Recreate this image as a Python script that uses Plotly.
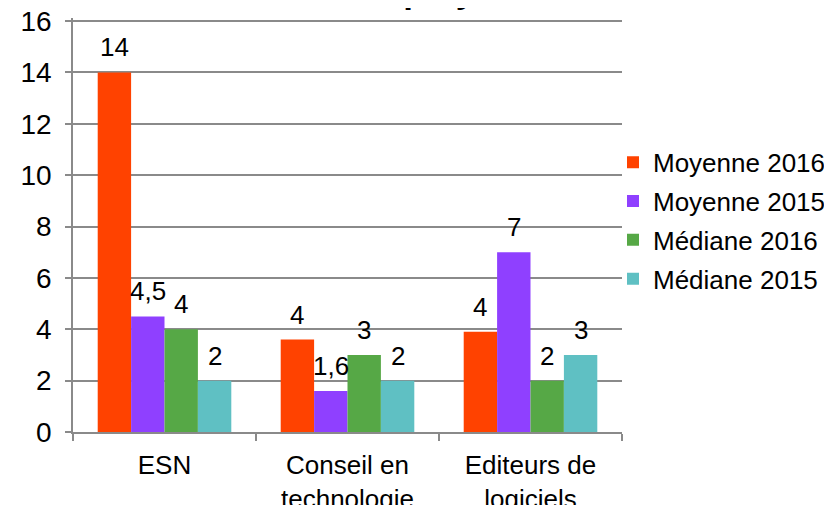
import plotly.graph_objects as go

# Data
categories = ["ESN", "Conseil en<br>technologie", "Editeurs de<br>logiciels"]
series_names = ["Moyenne 2016", "Moyenne 2015", "Médiane 2016", "Médiane 2015"]
moyenne_2016 = [14, 3.6, 3.9]
moyenne_2015 = [4.5, 1.6, 7]
mediane_2016 = [4, 3, 2]
mediane_2015 = [2, 2, 3]
series_values = [moyenne_2016, moyenne_2015, mediane_2016, mediane_2015]
label_decimals = [0, None, None, None]   # Moyenne 2016 labels are shown rounded

COLORS = ["#FF4200", "#8F40FF", "#56A846", "#5FC0C3"]
FONT = "Liberation Sans, Arial, sans-serif"
GRID = "#8A8A8A"

# the page body adds an 8px margin, so margins are shifted to compensate
W, H = 832, 505
MARGIN = dict(l=65, r=218, t=10, b=81, autoexpand=False)
BARGAP = 0.27
PX_PER_UNIT = 25.6875
# range top a few px above 16 so the gridline at 16 is drawn inside the plot
Y_TOP = (H - MARGIN["t"] - MARGIN["b"]) / PX_PER_UNIT


def fmt(v, dec):
    if dec is not None:
        return f"{v:.{dec}f}"
    return f"{v:g}".replace(".", ",")


fig = go.Figure()

for name, vals, color in zip(series_names, series_values, COLORS):
    fig.add_trace(go.Bar(
        x=categories,
        y=vals,
        name=name,
        marker=dict(color=color, line=dict(width=0)),
        legendgroup=name,
        hoverinfo="x+y+name",
    ))

# Data labels sit a fixed distance above each bar (Excel "outside end" style)
plot_w = W - MARGIN["l"] - MARGIN["r"]
plot_h = H - MARGIN["t"] - MARGIN["b"]
cat_px = plot_w / len(categories)
bar_px = cat_px * (1 - BARGAP) / len(series_values)
for j, (vals, dec) in enumerate(zip(series_values, label_decimals)):
    for cat, v in zip(categories, vals):
        fig.add_annotation(
            x=cat, y=v, xref="x", yref="y",
            text=fmt(v, dec),
            showarrow=False,
            xanchor="center", yanchor="bottom",
            xshift=(j - (len(series_values) - 1) / 2) * bar_px,
            yshift=8,
            font=dict(family=FONT, size=26, color="black"),
        )

# Title, mostly cut off by the top edge in the reference
fig.add_annotation(
    text="<b>Nombre d'employés</b>",
    xref="paper", yref="paper", x=0.5, y=1 + 6 / plot_h,
    xanchor="center", yanchor="bottom", showarrow=False,
    font=dict(family=FONT, size=35, color="black"),
)

fig.update_layout(
    width=W, height=H,
    margin=MARGIN,
    paper_bgcolor="white",
    plot_bgcolor="white",
    barmode="group",
    bargap=BARGAP,
    bargroupgap=0,
    font=dict(family=FONT, size=26, color="black"),
    showlegend=True,
    legend=dict(
        x=(605 - MARGIN["l"]) / plot_w, y=0.51, xanchor="left", yanchor="middle",
        font=dict(family=FONT, size=26, color="black"),
        itemwidth=30,
        tracegroupgap=2,
        bgcolor="rgba(0,0,0,0)",
    ),
)

fig.update_xaxes(
    type="category",
    showline=True, linecolor=GRID, linewidth=1.5,
    ticks="outside", tickson="boundaries", ticklen=7, tickcolor=GRID, tickwidth=1.5,
    showgrid=False,
    ticklabelstandoff=9,
    ticklabeloverflow="allow",
    tickfont=dict(family=FONT, size=26, color="black"),
)

fig.update_yaxes(
    range=[0, Y_TOP], tick0=0, dtick=2,
    showline=True, linecolor=GRID, linewidth=1.5,
    ticks="outside", ticklen=6, tickcolor=GRID, tickwidth=1.5,
    showgrid=True, gridcolor=GRID, gridwidth=1.5,
    zeroline=False,
    ticklabelstandoff=8,
    ticklabeloverflow="allow",
    tickfont=dict(family=FONT, size=28, color="black"),
)

fig.write_html("out.html")
